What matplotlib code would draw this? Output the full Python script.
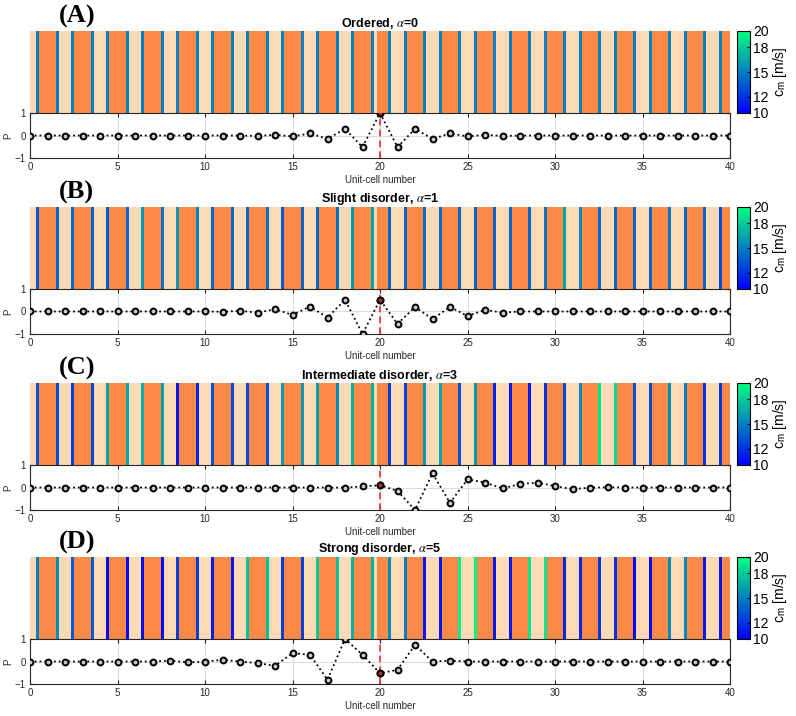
import matplotlib
matplotlib.use("Agg")
import matplotlib.pyplot as plt
import numpy as np
from matplotlib.colors import Normalize

# ---------------- data ----------------
panel_letters = ["(A)", "(B)", "(C)", "(D)"]
panel_titles = ["Ordered, $\\alpha$=0", "Slight disorder, $\\alpha$=1",
                "Intermediate disorder, $\\alpha$=3", "Strong disorder, $\\alpha$=5"]

# layer boundaries along the strip (unit-cell coordinate); layers alternate beige/orange
layer_edges = [0, 0.45, 1.55, 2.45, 3.55, 4.45, 5.55, 6.45, 7.55, 8.45, 9.55,
               10.45, 11.55, 12.45, 13.55, 14.45, 15.55, 16.45, 17.55, 18.45, 19.55,
               19.85, 20.55, 21.45, 22.55, 23.45, 24.55, 25.45, 26.55, 27.45, 28.55,
               29.45, 30.55, 31.45, 32.55, 33.45, 34.55, 35.45, 36.55, 37.45, 38.55,
               39.45, 40]
# positions of the thin inclusions (all inner boundaries except the defect split)
line_pos = [0.45, 1.55, 2.45, 3.55, 4.45, 5.55, 6.45, 7.55, 8.45, 9.55,
            10.45, 11.55, 12.45, 13.55, 14.45, 15.55, 16.45, 17.55, 18.45, 19.55,
            20.55, 21.45, 22.55, 23.45, 24.55, 25.45, 26.55, 27.45, 28.55, 29.45,
            30.55, 31.45, 32.55, 33.45, 34.55, 35.45, 36.55, 37.45, 38.55, 39.45]

cm_A = [15] * 40
cm_B = [13.5, 14, 14, 14, 13.5, 14, 16, 14.5, 16, 15,
        14, 14, 14, 14.5, 13.5, 14, 14, 14.5, 16, 16.5,
        14, 14, 14.5, 14, 14, 14, 14, 14, 14, 14.5,
        16.5, 15.5, 14, 14, 14, 14, 14.5, 14, 14, 13]
cm_C = [13, 13, 12.5, 13, 16.5, 16.5, 17, 16.5, 11, 11.5,
        13, 13, 13, 13, 16, 16, 16.5, 15.5, 17, 17,
        12.5, 12.5, 16, 16.5, 13, 16, 11.5, 11, 11, 12,
        13, 15.5, 19, 18.5, 13, 13, 15.5, 15, 12, 12]
cm_D = [15, 15.5, 13.5, 13.5, 10.5, 10.5, 10.5, 10.5, 12.5, 12.5,
        11, 11, 17.5, 17.5, 12.5, 12.5, 18, 17.5, 17, 17,
        15.5, 15, 11, 11, 19.5, 19.5, 11, 11, 19, 19,
        11.5, 11.5, 12, 12, 10.5, 10.5, 15.5, 15.5, 11, 11]
cm_all = [cm_A, cm_B, cm_C, cm_D]

cells = list(range(41))
P_A = [0, 0, 0, 0, 0, 0, 0, 0, 0, 0, 0, 0, 0, -0.02, 0.03, -0.04, 0.09, -0.15, 0.3, -0.52,
       1.0, -0.52, 0.3, -0.15, 0.09, -0.04, 0.03, -0.02, 0, 0, 0, 0, 0, 0, 0, 0, 0, 0, 0, 0, 0]
P_B = [0, 0, 0, 0, 0, 0, 0, 0, 0, 0, 0, -0.01, 0.03, -0.05, 0.1, -0.15, 0.22, -0.27, 0.52, -1.0,
       0.52, -0.55, 0.2, -0.33, 0.2, -0.2, 0.07, -0.05, 0, 0, 0, 0, 0, 0, 0, 0, 0, 0, 0, 0, 0]
P_C = [0, 0, 0, 0, 0, 0, 0, 0, 0, 0, 0, 0, 0, 0, 0, 0, 0, 0, -0.01, 0.05,
       0.1, -0.15, -1.0, 0.63, -0.68, 0.36, 0.22, -0.04, 0.15, 0.22, 0.06, -0.07, -0.01, 0.01,
       0, 0, 0, 0, 0, 0, 0]
P_D = [0, 0, 0, 0, 0, 0, 0, 0, 0.04, -0.04, 0, 0.07, 0, -0.07, -0.19, 0.37, 0.3, -0.81, 1.0, 0.3,
       -0.52, -0.37, 0.74, 0, 0.04, 0, 0, 0, 0, 0, 0, 0, 0, 0, 0, 0, 0, 0, 0, 0, 0]
P_all = [P_A, P_B, P_C, P_D]

source_cell = 20
cbar_ticks = [10, 12, 15, 18, 20]
xticks = [0, 5, 10, 15, 20, 25, 30, 35, 40]
yticks = [-1, 0, 1]

# ---------------- style ----------------
ORANGE = "#FA8A46"
BEIGE = "#FDDAB5"
cmap = plt.get_cmap("winter")
norm = Normalize(10, 20)
plt.rcParams["font.family"] = ["Liberation Sans", "DejaVu Sans"]
plt.rcParams["mathtext.fontset"] = "stix"

W_px, H_px = 796, 716
fig = plt.figure(figsize=(W_px / 100, H_px / 100), dpi=100)

strip_top = [31, 207, 383, 557]
strip_bot = [113, 289, 465, 639]
low_bot = [158, 334, 510, 684]
L = 30 / W_px
Wd = 700 / W_px

def fy(px):
    return 1 - px / H_px

widths = np.diff(layer_edges)
kinds = [BEIGE if i % 2 == 0 else ORANGE for i in range(len(widths))]

for k in range(4):
    st, sb, lb = strip_top[k], strip_bot[k], low_bot[k]
    axs = fig.add_axes([L, fy(sb), Wd, (sb - st) / H_px])
    axs.bar(layer_edges[:-1], 1, width=widths, align="edge", color=kinds, linewidth=0)
    axs.bar(line_pos, 1, width=0.16, align="center",
            color=cmap(norm(np.array(cm_all[k]))), linewidth=0)
    axs.set_xlim(0, 40)
    axs.set_ylim(0, 1)
    axs.axis("off")
    axs.set_title(panel_titles[k], fontsize=9, fontweight="bold", pad=2)

    fig.text(59 / W_px, fy(st - 26), panel_letters[k], fontsize=19, fontweight="bold",
             family="Liberation Serif", va="top", ha="left")

    axl = fig.add_axes([L, fy(lb), Wd, (lb - sb) / H_px])
    axl.grid(True, color="#dcdcdc", linewidth=0.8)
    axl.set_axisbelow(True)
    axl.axvline(source_cell, color="#e03030", linestyle=(0, (4, 2.5)), linewidth=1.2, zorder=2)
    axl.plot(cells, P_all[k], linestyle=":", color="black", linewidth=1.3,
             marker="o", markersize=4.2, markeredgewidth=1.4, markeredgecolor="black",
             markerfacecolor="#c8c8c8", zorder=3)
    axl.plot([source_cell], [P_all[k][source_cell]], marker="o", markersize=4.2,
             markeredgewidth=1.4, markeredgecolor="black", markerfacecolor="#b03030",
             linestyle="none", zorder=4)
    axl.set_xlim(0, 40)
    axl.set_ylim(-1, 1)
    axl.set_xticks(xticks)
    axl.set_yticks(yticks)
    axl.tick_params(direction="in", length=3, width=0.8, labelsize=7, colors="#262626",
                    top=True, right=True, pad=3)
    for sp in axl.spines.values():
        sp.set_linewidth(0.8)
        sp.set_color("#262626")
    axl.set_xlabel("Unit-cell number", fontsize=7, color="#262626", labelpad=2)
    axl.set_ylabel("P", fontsize=7, color="#262626", labelpad=1)

    cax = fig.add_axes([737 / W_px, fy(sb), 13 / W_px, (sb - st) / H_px])
    sm = matplotlib.cm.ScalarMappable(norm=norm, cmap=cmap)
    cb = fig.colorbar(sm, cax=cax, ticks=cbar_ticks)
    cb.ax.tick_params(labelsize=10, length=2, direction="in", pad=2)
    cb.outline.set_linewidth(0.8)
    cb.set_label("c$_\\mathregular{m}$ [m/s]", fontsize=10, labelpad=2)

fig.savefig("out.png", dpi=100)
